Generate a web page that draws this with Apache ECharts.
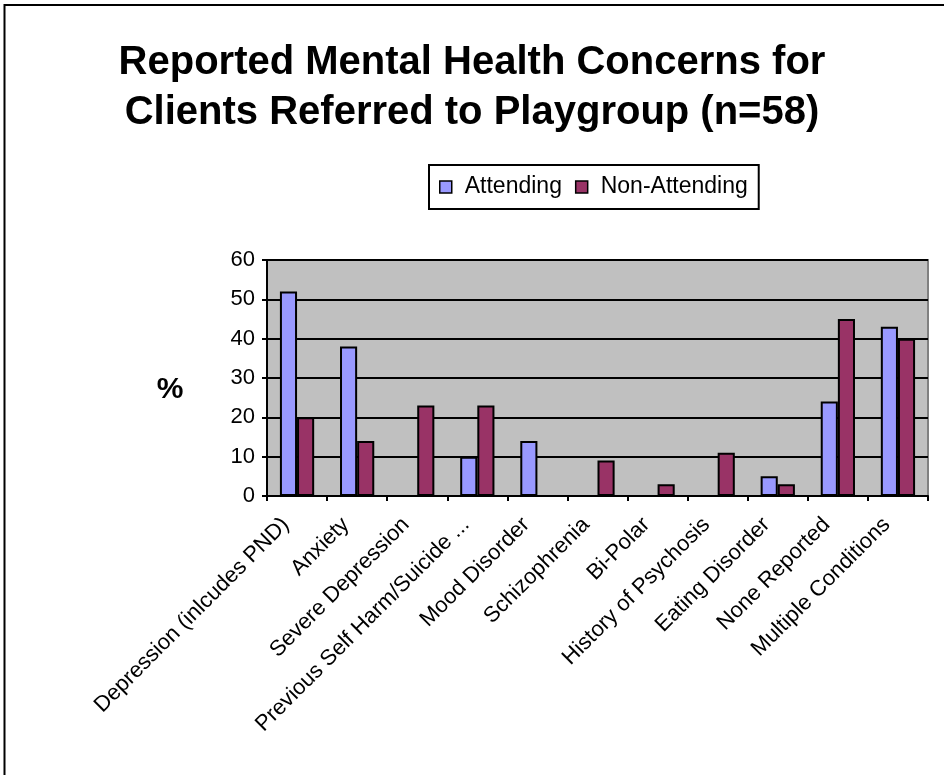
<!DOCTYPE html>
<html>
<head>
<meta charset="utf-8">
<script src="https://cdn.jsdelivr.net/npm/echarts@6/dist/echarts.min.js"></script>
<style>
  html, body { margin: 0; padding: 0; background: #fff; }
  #chart { width: 944px; height: 775px; }
</style>
</head>
<body>
<div id="chart"></div>
<script>
// Reported mental health concerns, % of clients referred to playgroup
const categories = [
  'Depression (inlcudes PND)',
  'Anxiety',
  'Severe Depression',
  'Previous Self Harm/Suicide ...',
  'Mood Disorder',
  'Schizophrenia',
  'Bi-Polar',
  'History of Psychosis',
  'Eating Disorder',
  'None Reported',
  'Multiple Conditions'
];
const attending    = [52, 38, 0, 10, 14, 0, 0, 0, 5, 24, 43];
const nonAttending = [20, 14, 23, 23, 0, 9, 3, 11, 3, 45, 40];
const yTicks = { min: 0, max: 60, step: 10 };

const FONT = "'Liberation Sans', Arial, sans-serif";

const chart = echarts.init(document.getElementById('chart'), null, { renderer: 'canvas' });

chart.setOption({
  backgroundColor: '#ffffff',
  animation: false,
  title: {
    text: 'Reported Mental Health Concerns for\nClients Referred to Playgroup (n=58)',
    left: 'center',
    top: 33,
    textStyle: {
      fontFamily: FONT,
      fontSize: 40,
      fontWeight: 'bold',
      color: '#000',
      lineHeight: 50
    }
  },
  legend: {
    left: 429,
    top: 165,
    padding: [10, 11, 10, 10],
    itemGap: 13,
    itemWidth: 12,
    itemHeight: 12,
    icon: 'rect',
    borderColor: '#000',
    borderWidth: 2,
    backgroundColor: '#fff',
    itemStyle: { borderColor: '#000', borderWidth: 1.5 },
    textStyle: {
      fontFamily: FONT,
      fontSize: 23,
      color: '#000',
      lineHeight: 24,
      padding: [0, 0, 0, 8]
    },
    data: ['Attending', 'Non-Attending']
  },
  grid: {
    left: 267,
    right: 16,
    top: 260,
    bottom: 279,
    show: true,
    backgroundColor: '#c0c0c0',
    borderColor: '#808080',
    borderWidth: 2
  },
  xAxis: {
    type: 'category',
    data: categories,
    boundaryGap: true,
    axisLine: { lineStyle: { color: '#000', width: 2 } },
    axisTick: { show: true, interval: 0, length: 5, lineStyle: { color: '#000', width: 2 } },
    axisLabel: {
      interval: 0,
      rotate: 45,
      margin: 14,
      padding: [0, 16, 0, 0],
      fontFamily: FONT,
      fontSize: 22,
      color: '#000'
    }
  },
  yAxis: {
    type: 'value',
    min: yTicks.min,
    max: yTicks.max,
    interval: yTicks.step,
    axisLine: { show: true, lineStyle: { color: '#000', width: 2 } },
    axisTick: { show: true, length: 5, lineStyle: { color: '#000', width: 2 } },
    axisLabel: {
      margin: 12,
      fontFamily: FONT,
      fontSize: 22,
      color: '#000'
    },
    splitLine: { show: true, lineStyle: { color: '#000', width: 2 } }
  },
  graphic: [
    {
      type: 'rect',
      silent: true,
      z: 100,
      shape: { x: 4.5, y: 5, width: 1200, height: 1200 },
      style: { fill: 'none', stroke: '#000', lineWidth: 2 }
    },
    {
      type: 'text',
      silent: true,
      x: 170,
      y: 390,
      style: {
        text: '%',
        fontFamily: FONT,
        fontSize: 30,
        fontWeight: 'bold',
        fill: '#000',
        align: 'center',
        verticalAlign: 'middle'
      }
    }
  ],
  series: [
    {
      name: 'Attending',
      type: 'bar',
      data: attending,
      barGap: '0%',
      barCategoryGap: '43%',
      itemStyle: { color: '#9999ff', borderColor: '#000', borderWidth: 2 }
    },
    {
      name: 'Non-Attending',
      type: 'bar',
      data: nonAttending,
      barGap: '0%',
      barCategoryGap: '43%',
      itemStyle: { color: '#993366', borderColor: '#000', borderWidth: 2 }
    }
  ]
});
</script>
</body>
</html>
